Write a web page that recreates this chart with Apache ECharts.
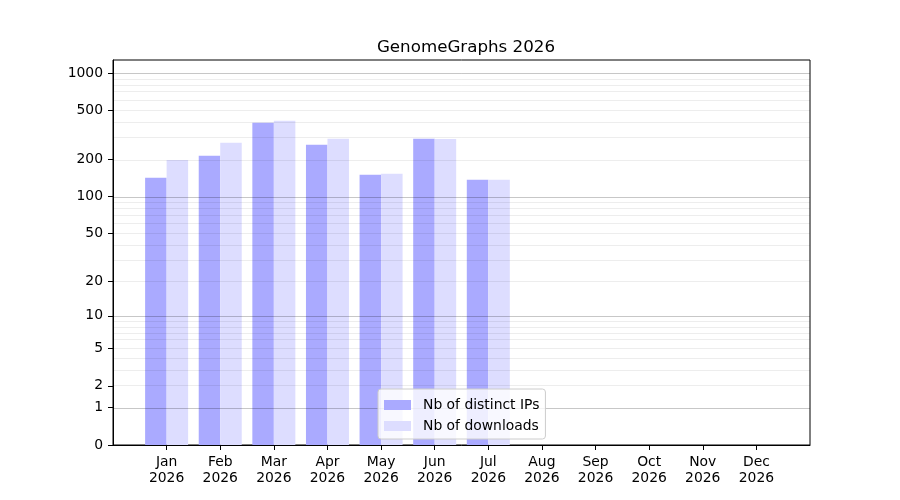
<!DOCTYPE html>
<html>
<head>
<meta charset="utf-8">
<script src="https://cdn.jsdelivr.net/npm/echarts@6/dist/echarts.min.js"></script>
<style>
  html, body { margin: 0; padding: 0; background: #fff; }
  #chart { width: 900px; height: 500px; }
</style>
</head>
<body>
<div id="chart"></div>
<script>
var months = ['Jan', 'Feb', 'Mar', 'Apr', 'May', 'Jun', 'Jul', 'Aug', 'Sep', 'Oct', 'Nov', 'Dec'];
var year = '2026';
var distinctIPs = [142, 214, 396, 263, 150, 294, 137, 0, 0, 0, 0, 0];
var downloads = [198, 273, 411, 294, 153, 293, 137, 0, 0, 0, 0, 0];
var yTicks = [0, 1, 2, 5, 10, 20, 50, 100, 200, 500, 1000];
var majorGrid = [1, 10, 100, 1000];
var minorGrid = [2, 3, 4, 5, 6, 7, 8, 9, 20, 30, 40, 50, 60, 70, 80, 90, 200, 300, 400, 500, 600, 700, 800, 900];

// the y axis is log10(n + 1), so 0 can be shown
function tr(v) { return Math.log10(v + 1); }

var chartElem = document.getElementById('chart');
var chart = echarts.init(chartElem);

var monthIdx = months.map(function (m, i) { return i; });
var gridLines = [];
majorGrid.forEach(function (v) {
  gridLines.push({ yAxis: tr(v), lineStyle: { color: 'rgba(0,0,0,0.22)', width: 1, type: 'solid' } });
});
minorGrid.forEach(function (v) {
  gridLines.push({ yAxis: tr(v), lineStyle: { color: 'rgba(0,0,0,0.07)', width: 1, type: 'solid' } });
});

chart.setOption({
  animation: false,
  textStyle: { fontFamily: 'DejaVu Sans' },
  title: {
    text: 'GenomeGraphs ' + year,
    left: 461,
    top: 34,
    textAlign: 'center',
    textStyle: { fontFamily: 'DejaVu Sans', fontSize: 16.7, fontWeight: 'normal', color: '#000' }
  },
  grid: {
    left: 113, right: 90, top: 60, bottom: 55,
    show: true, borderColor: '#000', borderWidth: 1, backgroundColor: 'transparent'
  },
  legend: {
    orient: 'vertical',
    left: 378,
    top: 389,
    itemWidth: 27,
    itemHeight: 10,
    itemGap: 5,
    icon: 'rect',
    padding: [8, 6, 5, 6],
    backgroundColor: 'rgba(255,255,255,0.8)',
    borderColor: '#cccccc',
    borderWidth: 1,
    borderRadius: 3,
    textStyle: { fontFamily: 'DejaVu Sans', fontSize: 13.9, lineHeight: 16, color: '#000', padding: [0, 0, 0, 7] },
    data: ['Nb of distinct IPs', 'Nb of downloads']
  },
  xAxis: {
    type: 'value',
    min: -1,
    max: 12,
    splitLine: { show: false },
    axisLine: { show: true, onZero: false, lineStyle: { color: '#000' } },
    axisTick: { show: true, length: 5, customValues: monthIdx, lineStyle: { color: '#000' } },
    axisLabel: {
      customValues: monthIdx,
      margin: 9,
      fontSize: 13.9,
      lineHeight: 16,
      color: '#000',
      fontFamily: 'DejaVu Sans',
      formatter: function (v) { return months[Math.round(v)] + '\n' + year; }
    }
  },
  yAxis: {
    type: 'value',
    min: 0,
    max: 3.105,
    splitLine: { show: false },
    axisLine: { show: true, onZero: false, lineStyle: { color: '#000' } },
    axisTick: { show: true, length: 5, customValues: yTicks.map(tr), lineStyle: { color: '#000' } },
    axisLabel: {
      customValues: yTicks.map(tr),
      margin: 10,
      fontSize: 13.9,
      color: '#000',
      fontFamily: 'DejaVu Sans',
      formatter: function (v) { return String(Math.round(Math.pow(10, v) - 1)); }
    }
  },
  series: [{
    name: 'Nb of distinct IPs',
    type: 'bar',
    barWidth: 21.5,
    barGap: '0%',
    itemStyle: { color: '#aaaaff', borderWidth: 0 },
    data: distinctIPs.map(function (v, i) { return [i, tr(v)]; })
  }, {
    name: 'Nb of downloads',
    type: 'bar',
    barWidth: 21.5,
    barGap: '0%',
    itemStyle: { color: '#ddddff', borderWidth: 0 },
    data: downloads.map(function (v, i) { return [i, tr(v)]; }),
    markLine: {
      silent: true,
      symbol: 'none',
      label: { show: false },
      z: 3,
      data: gridLines
    }
  }]
});
</script>
</body>
</html>
